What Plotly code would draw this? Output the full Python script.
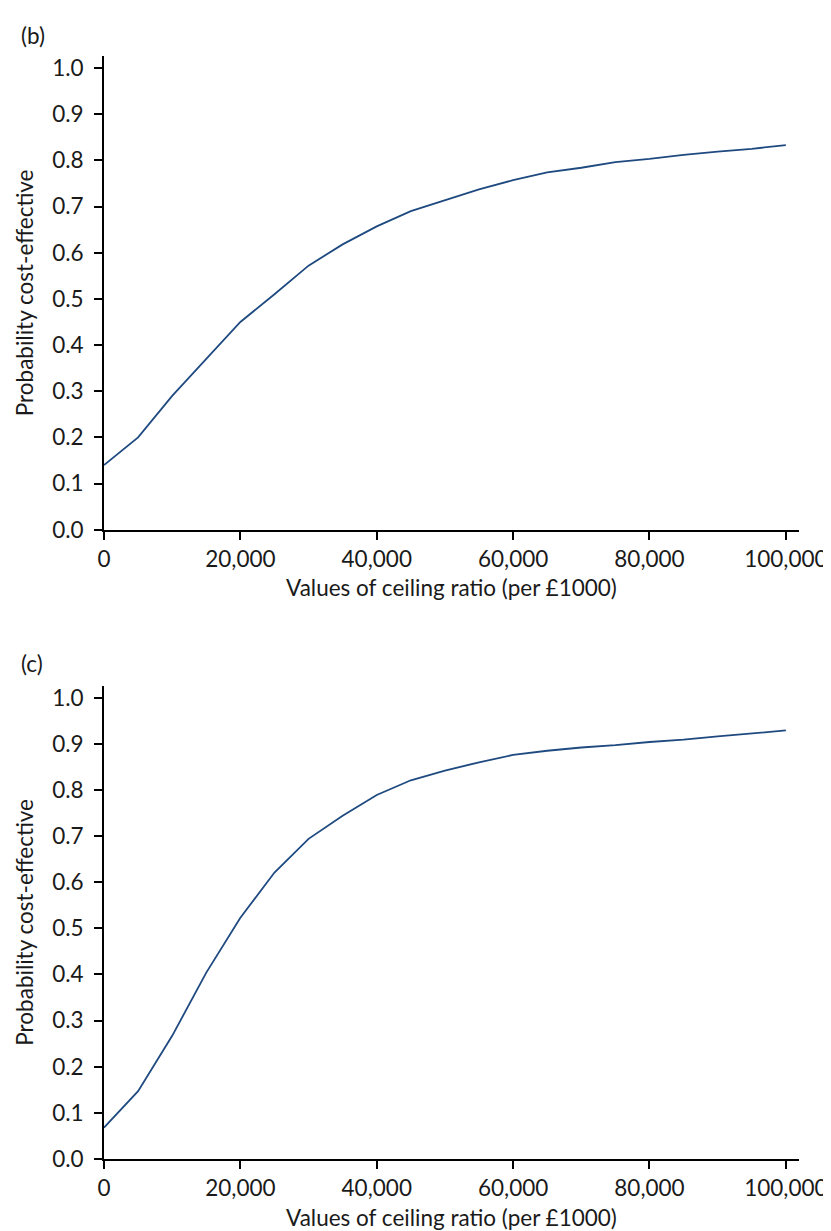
import plotly.graph_objects as go

ceiling = [0, 5000, 10000, 15000, 20000, 25000, 30000, 35000, 40000, 45000, 50000,
           55000, 60000, 65000, 70000, 75000, 80000, 85000, 90000, 95000, 100000]
prob_b = [0.14, 0.20, 0.29, 0.37, 0.45, 0.51, 0.572, 0.618, 0.657, 0.69, 0.714,
          0.737, 0.757, 0.774, 0.784, 0.796, 0.803, 0.812, 0.819, 0.825, 0.833]
prob_c = [0.068, 0.147, 0.267, 0.404, 0.523, 0.621, 0.694, 0.744, 0.789, 0.821, 0.842,
          0.860, 0.876, 0.885, 0.892, 0.897, 0.904, 0.909, 0.916, 0.923, 0.929]
panel_labels = ["(b)", "(c)"]
x_title = "Values of ceiling ratio (per £1000)"
y_title = "Probability cost-effective"

LINE = "#1f4a80"
FONT = dict(family="Lato, 'Open Sans', sans-serif", size=22.5, color="#1a1a1a")

fig = go.Figure()
fig.add_trace(go.Scatter(x=ceiling, y=prob_b, mode="lines", xaxis="x", yaxis="y",
                         line=dict(color=LINE, width=1.8), showlegend=False))
fig.add_trace(go.Scatter(x=ceiling, y=prob_c, mode="lines", xaxis="x2", yaxis="y2",
                         line=dict(color=LINE, width=1.8), showlegend=False))

xcommon = dict(range=[0, 101930], tickvals=[0, 20000, 40000, 60000, 80000, 100000],
               tickformat=",d", showline=True, linecolor="black", linewidth=1.7,
               ticks="outside", ticklen=8, tickwidth=1.5, tickcolor="black",
               showgrid=False, zeroline=False, tickfont=FONT, ticklabelstandoff=0,
               title=dict(text=x_title, font=FONT, standoff=10))
ycommon = dict(range=[0, 1.026], tickvals=[i / 10 for i in range(11)], tickformat=".1f",
               showline=True, linecolor="black", linewidth=1.7,
               ticks="outside", ticklen=8, tickwidth=1.5, tickcolor="black",
               showgrid=False, zeroline=False, tickfont=FONT, ticklabelstandoff=6,
               title=dict(text=y_title, font=FONT, standoff=12))

top_dom = [0.5705, 1.0]
bot_dom = [0.0, 0.4291]

fig.update_layout(
    width=831, height=1231,
    margin=dict(l=96, r=32, t=48, b=66),
    paper_bgcolor="white", plot_bgcolor="white",
    font=FONT,
    xaxis=dict(**xcommon, domain=[0, 1], anchor="y"),
    yaxis=dict(**ycommon, domain=top_dom, anchor="x"),
    xaxis2=dict(**xcommon, domain=[0, 1], anchor="y2"),
    yaxis2=dict(**ycommon, domain=bot_dom, anchor="x2"),
    annotations=[
        dict(text=panel_labels[0], xref="paper", yref="paper", x=-0.122, y=1.0188,
             xanchor="left", yanchor="middle", showarrow=False, font=FONT),
        dict(text=panel_labels[1], xref="paper", yref="paper", x=-0.122, y=0.4494,
             xanchor="left", yanchor="middle", showarrow=False, font=FONT),
    ],
)

fig.write_html("out.html")
